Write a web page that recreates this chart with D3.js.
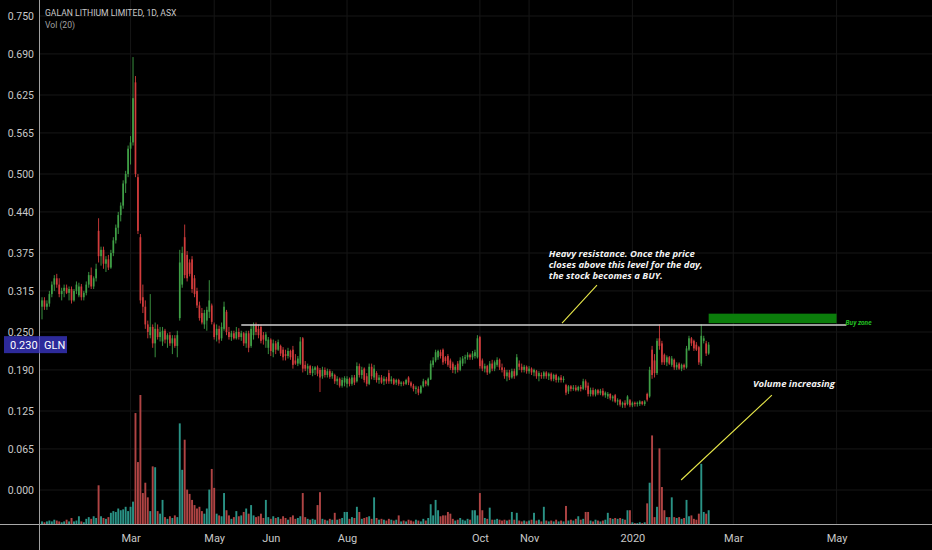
<!DOCTYPE html>
<html><head><meta charset="utf-8">
<script src="https://cdn.jsdelivr.net/npm/d3@7"></script>
<style>html,body{margin:0;padding:0;background:#000;overflow:hidden}svg{display:block}</style>
</head><body>
<script>
// prices in thousandths of AUD, one entry per daily bar
const opens=[290,300,290,295,310,325,335,325,310,315,
320,312,318,300,315,308,322,305,312,325,
340,322,335,410,370,380,358,365,352,375,
395,415,435,450,485,500,540,550,645,495,
400,305,290,262,245,258,232,255,242,235,
252,238,245,232,240,228,272,325,400,372,
360,365,335,315,292,280,262,268,282,292,
262,245,255,240,255,282,250,242,248,240,
250,242,248,232,248,228,245,260,255,258,
245,236,225,238,218,232,222,228,222,215,
212,220,222,205,200,200,240,198,192,196,
185,190,194,190,180,190,182,188,180,182,
172,176,165,170,168,176,168,178,172,196,
182,192,180,168,195,178,185,174,178,172,
176,185,172,175,170,174,168,170,168,178,
170,165,160,160,154,164,172,166,175,198,
205,210,218,222,210,212,205,200,190,200,
190,200,208,210,214,210,212,210,242,205,
192,196,186,200,192,198,206,194,190,180,
186,178,188,182,200,195,190,195,188,192,
186,188,180,182,180,186,180,184,176,182,
174,178,174,166,156,164,160,162,158,163,
160,172,165,152,158,151,158,153,157,150,
148,152,145,150,140,142,135,138,136,142,
134,138,136,136,140,136,152,148,222,205,
185,240,232,214,202,210,198,206,194,200,
192,198,194,222,240,236,230,226,200,236,
232,216];
const highs=[305,305,300,315,330,340,342,335,320,325,
325,322,322,318,330,328,326,315,330,345,
352,338,358,430,385,385,370,372,380,400,
420,440,455,490,505,545,560,685,655,500,
405,325,300,268,310,262,265,262,258,258,
255,248,250,245,245,252,380,385,420,378,
365,370,340,320,298,288,285,290,332,295,
265,262,260,265,298,285,258,252,252,258,
256,252,250,252,252,262,265,265,262,262,
250,250,242,240,238,236,238,230,226,222,
225,222,228,215,212,242,242,204,200,198,
196,196,197,193,195,194,192,191,188,184,
180,178,178,180,180,178,182,182,202,200,
195,194,185,200,200,198,188,182,182,180,
179,190,180,177,176,176,172,172,176,180,
172,168,165,164,166,176,174,178,205,210,
222,222,222,224,212,215,208,203,198,204,
210,212,214,218,216,220,222,245,244,208,
200,198,204,206,205,210,208,200,194,190,
190,192,192,215,205,200,198,197,196,194,
192,190,188,186,188,188,186,186,184,184,
180,182,180,168,166,166,166,166,165,166,
176,175,170,162,162,160,160,160,161,156,
155,153,150,152,145,144,140,142,150,144,
140,140,140,142,141,142,154,195,228,215,
240,262,236,216,213,212,212,208,202,202,
200,200,228,244,242,238,234,228,262,244,
236,234];
const lows=[270,285,285,290,305,315,320,305,300,305,
310,300,295,298,310,305,300,300,308,320,
318,318,330,360,355,350,345,348,350,370,
390,405,425,445,470,495,515,545,495,405,
295,280,255,240,240,225,210,238,235,228,
232,225,228,215,225,210,268,320,335,330,
338,312,305,288,268,262,255,252,272,262,
238,235,232,236,252,245,238,236,238,238,
238,236,228,225,218,225,238,245,240,232,
230,225,215,212,210,215,220,212,205,205,
208,206,192,198,196,198,186,188,182,182,
180,182,180,155,176,178,178,176,176,168,
166,162,162,164,162,164,165,166,170,178,
176,170,164,166,175,174,170,168,168,166,
168,168,168,166,166,165,164,165,166,166,
162,156,152,150,152,162,164,164,174,194,
202,206,208,198,200,195,190,185,184,186,
188,196,200,206,206,206,208,208,192,188,
186,182,184,188,188,195,190,186,176,172,
174,176,176,180,190,186,186,184,184,182,
180,176,172,176,176,176,174,172,172,170,
170,170,170,150,152,156,157,156,156,156,
158,158,148,148,148,148,150,150,148,146,
144,142,140,138,134,132,130,130,134,131,
131,132,132,133,134,133,140,146,176,178,
182,222,198,198,196,198,195,190,190,190,
188,190,192,220,228,220,220,198,196,232,
212,214];
const closes=[300,290,295,310,325,335,325,310,315,320,
312,318,300,315,325,322,305,312,325,340,
322,335,350,370,380,358,365,352,375,395,
415,435,450,485,500,540,550,620,500,410,
300,290,262,250,258,232,255,242,250,252,
238,245,232,240,228,245,360,375,340,335,
342,318,310,292,272,265,280,285,300,266,
242,255,238,258,290,250,242,248,240,250,
242,248,232,248,225,255,260,250,245,236,
238,246,238,220,232,222,234,216,210,212,
220,210,198,200,208,235,192,192,196,185,
192,194,184,178,190,182,188,179,185,172,
176,165,174,177,176,168,178,170,196,182,
190,174,168,195,180,192,174,178,170,176,
172,172,175,168,174,168,170,168,174,170,
165,160,162,154,164,172,168,176,200,205,
218,220,212,202,204,198,193,190,195,190,
205,208,210,214,210,216,218,240,196,192,
196,186,200,192,202,206,194,190,180,186,
178,188,180,210,195,190,195,188,192,186,
190,180,185,180,186,180,184,175,182,174,
178,174,176,154,164,160,162,158,163,160,
172,162,152,158,151,158,153,157,150,154,
152,145,148,140,142,135,138,134,148,134,
138,136,138,140,136,140,143,190,182,185,
236,228,202,202,210,200,208,194,198,192,
198,194,224,240,232,224,222,202,244,240,
216,230];
// volume, millions of shares
const volumes=[.3,.2,.3,.4,.3,.5,.4,.3,.2,.3,
.5,.3,.7,.3,.4,.9,.3,.2,.6,.8,
.6,.9,.7,4.5,.9,.7,.6,.8,1.3,1.5,
1.4,1.8,1.6,1.7,2.0,1.5,2.0,2.6,12.9,7.2,
15,3.6,4.8,3.1,1.5,6.7,6.6,1.5,1.2,2.8,
.8,.6,.9,.7,1.0,.8,11.7,6.3,9.8,4.0,
3.5,2.8,2.2,1.8,2.0,1.5,1.2,1.8,4.0,6.4,
4.2,1.2,1.0,.9,3.6,1.6,1.0,.6,.8,1.5,
.9,1.0,1.4,1.8,1.2,2.2,1.0,.8,.9,1.2,
.7,2.8,.8,.6,.9,.7,.8,.6,.9,.7,
.5,.8,1.0,.6,.7,.9,3.6,.8,.6,.5,
.6,.5,2.2,3.7,.6,.5,.4,.6,.5,1.3,
.5,.6,.7,1.4,1.4,.6,.8,.7,2.0,1.4,
.6,.7,.8,.9,.6,3.1,.7,.5,.6,.5,
.4,.6,.5,.4,.5,1.0,.3,.4,.3,.5,
.4,.3,.5,.4,.3,.6,.4,.7,2.3,1.0,
2.8,1.6,.9,1.0,1.0,1.4,1.2,.6,.4,.5,
.7,.5,.4,.6,.5,1.6,1.6,1.0,3.6,1.6,
.7,.6,1.9,.5,.5,.6,.5,.4,.5,.4,
.5,1.4,.5,1.3,.4,.3,.4,.3,.4,.5,
1.3,.4,.5,.3,2.0,.4,.3,.4,.3,.5,
.3,.4,.3,2.1,.4,.5,.4,.6,.9,.5,
.6,1.4,1.4,.4,.3,.5,.4,.3,.4,.5,
1.3,.7,.6,.7,.6,.7,.6,.5,1.6,1.6,
.2,.1,.1,.2,.1,.2,2.4,4.8,10.3,.8,
2.0,8.8,4.3,1.6,.8,.8,3.1,.8,.7,.8,
.6,.7,2.8,.9,1.0,.6,.5,1.2,7.0,1.4,
1.2,1.6];

const priceTicks=[750,690,625,565,500,440,375,315,250,190,125,65,0];
const monthLabels=["Mar","May","Jun","Aug","Oct","Nov","2020","Mar","May"];
const monthBarIndex=[36,70,93,124,178,198,240,281,323];
const titleText="GALAN LITHIUM LIMITED, 1D, ASX";
const volText="Vol (20)";
const symbol="GLN";
const lastPrice=230;
const resistancePrice=261, resistanceFrom=81, resistanceTo=327;
const buyZoneLow=264, buyZoneHigh=279, buyZoneFrom=271, buyZoneTo=323;
const noteLines=["Heavy resistance. Once the price","closes above this level for the day,","the stock becomes a BUY."];
const volNote="Volume increasing";
const buyNote="Buy zone";

const W=932,H=550, slot=2.46, x0=42;
const n=closes.length;
const svg=d3.select("body").append("svg").attr("width",W).attr("height",H).style("background","#000");
const x=d3.scaleLinear().domain([0,n-1]).range([x0,x0+(n-1)*slot]);
const y=d3.scaleLinear().domain([0,750]).range([490,16]);
const yv=d3.scaleLinear().domain([0,15]).range([524,395]);
const font="Roboto, 'Open Sans', sans-serif";

// grid
const grid=svg.append("g");
grid.selectAll("line.h").data(priceTicks).join("line")
  .attr("x1",40).attr("x2",W).attr("y1",d=>y(d)).attr("y2",d=>y(d))
  .attr("stroke","#161616").attr("stroke-width",1);
grid.selectAll("line.v").data(monthBarIndex).join("line")
  .attr("x1",d=>x(d)).attr("x2",d=>x(d)).attr("y1",0).attr("y2",524)
  .attr("stroke","#161616").attr("stroke-width",1);

const bars=d3.range(n);
const up=i=>closes[i]>=opens[i];

// volume
svg.append("g").selectAll("rect").data(bars).join("rect")
  .attr("x",i=>x(i)-0.95).attr("width",1.9)
  .attr("y",i=>yv(volumes[i])).attr("height",i=>yv(0)-yv(volumes[i]))
  .attr("fill",i=>up(i)?"#2a9386":"#b04444");

// candles
const cg=svg.append("g");
cg.selectAll("line").data(bars).join("line")
  .attr("x1",i=>x(i)).attr("x2",i=>x(i))
  .attr("y1",i=>y(highs[i])).attr("y2",i=>y(lows[i]))
  .attr("stroke",i=>up(i)?"#3f9f46":"#d23c3c").attr("stroke-width",0.9);
cg.selectAll("rect").data(bars).join("rect")
  .attr("x",i=>x(i)-0.85).attr("width",1.7)
  .attr("y",i=>y(Math.max(opens[i],closes[i])))
  .attr("height",i=>Math.max(1,Math.abs(y(opens[i])-y(closes[i]))))
  .attr("fill",i=>up(i)?"#3f9f46":"#d23c3c");

// resistance line
svg.append("line").attr("x1",x(resistanceFrom)).attr("x2",x(resistanceTo))
  .attr("y1",y(resistancePrice)).attr("y2",y(resistancePrice))
  .attr("stroke","#d0d0d0").attr("stroke-width",1.4);

// buy zone
svg.append("rect").attr("x",x(buyZoneFrom)).attr("width",x(buyZoneTo)-x(buyZoneFrom))
  .attr("y",y(buyZoneHigh)).attr("height",y(buyZoneLow)-y(buyZoneHigh))
  .attr("fill","#0b7d0b");
svg.append("text").attr("x",x(buyZoneTo)+9).attr("y",y(buyZoneLow)+1.5)
  .attr("font-family",font).attr("font-size",6.5).attr("font-style","italic").attr("font-weight","bold")
  .attr("fill","#22c022").text(buyNote);

// annotation 1
const ax=x(206), ay=y(368);
noteLines.forEach((t,k)=>{
  svg.append("text").attr("x",ax).attr("y",ay+k*11)
    .attr("font-family","'Open Sans', sans-serif").attr("font-size",8.2).attr("font-weight","bold").attr("font-style","italic")
    .attr("fill","#f2f2f2").attr("textLength",[146,154,114][k]).attr("lengthAdjust","spacingAndGlyphs").text(t);
});
svg.append("line").attr("x1",x(211.4)).attr("y1",y(264)).attr("x2",x(225.6)).attr("y2",y(324))
  .attr("stroke","#e8e84a").attr("stroke-width",1.1);

// annotation 2
svg.append("text").attr("x",x(289)).attr("y",y(163))
  .attr("font-family","'Open Sans', sans-serif").attr("font-size",9.5).attr("font-weight","bold").attr("font-style","italic")
  .attr("fill","#f2f2f2").attr("textLength",82).attr("lengthAdjust","spacingAndGlyphs").text(volNote);
svg.append("line").attr("x1",x(259.8)).attr("y1",y(15.8)).attr("x2",x(296.7)).attr("y2",y(150))
  .attr("stroke","#e8e84a").attr("stroke-width",1.1);

// axes
svg.append("rect").attr("x",0).attr("y",0).attr("width",39).attr("height",H).attr("fill","#000");
svg.append("rect").attr("x",39).attr("y",525).attr("width",W-39).attr("height",25).attr("fill","#000");
const yAxis=svg.append("g").attr("transform","translate(39,0)")
  .call(d3.axisLeft(y).tickValues(priceTicks).tickFormat(d=>(d/1000).toFixed(3)).tickSize(0).tickPadding(5));
yAxis.select(".domain").remove();
yAxis.selectAll("text").attr("font-family",font).attr("font-size",10.5).attr("fill","#c8c8c8");
const xAxis=svg.append("g").attr("transform","translate(0,524)")
  .call(d3.axisBottom(x).tickValues(monthBarIndex).tickFormat((d,i)=>monthLabels[i]).tickSize(0).tickPadding(10));
xAxis.select(".domain").remove();
xAxis.selectAll("text").attr("font-family",font).attr("font-size",11).attr("fill","#c8c8c8");
svg.append("line").attr("x1",0).attr("x2",W).attr("y1",524.5).attr("y2",524.5).attr("stroke","#a8a8a8").attr("stroke-width",1);
svg.append("line").attr("x1",39.5).attr("x2",39.5).attr("y1",0).attr("y2",H).attr("stroke","#a0a0a0").attr("stroke-width",1);

// last price label
const py=y(lastPrice);
svg.append("rect").attr("x",4).attr("y",py-8.5).attr("width",63).attr("height",17).attr("fill","#2d2a9a");
svg.append("line").attr("x1",39.5).attr("x2",39.5).attr("y1",py-8.5).attr("y2",py+8.5).attr("stroke","#5a57b8");
svg.append("text").attr("x",10).attr("y",py+4).attr("font-family",font).attr("font-size",11).attr("fill","#fff").text((lastPrice/1000).toFixed(3));
svg.append("text").attr("x",44).attr("y",py+4).attr("font-family",font).attr("font-size",11).attr("fill","#fff").text(symbol);

// header
svg.append("text").attr("x",45).attr("y",16).attr("font-family",font).attr("font-size",8.6).attr("fill","#c8c8c8").text(titleText);
svg.append("text").attr("x",45).attr("y",28).attr("font-family",font).attr("font-size",8.6).attr("fill","#a0a0a0").text(volText);
</script>
</body></html>
